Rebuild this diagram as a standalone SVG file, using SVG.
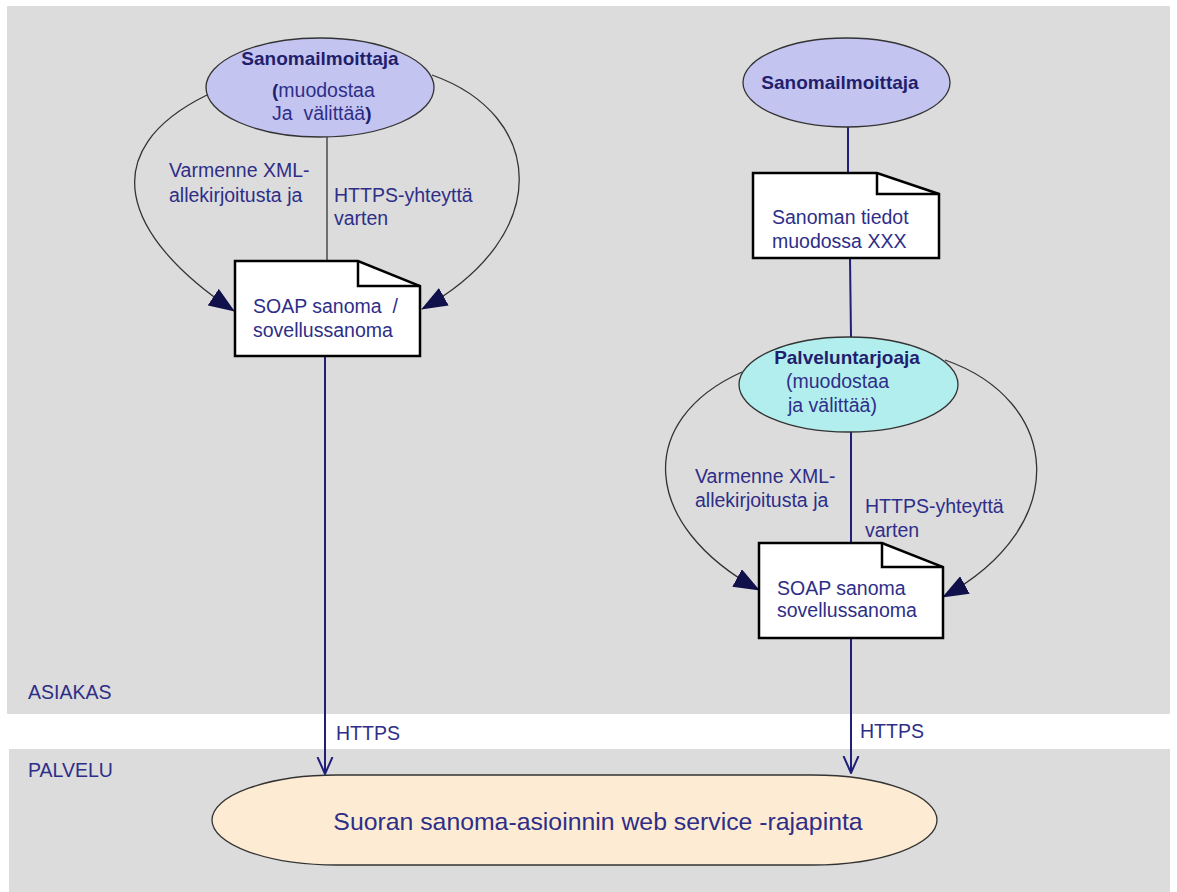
<svg xmlns="http://www.w3.org/2000/svg" width="1177" height="892" viewBox="0 0 1177 892">
<style>
.t{font-family:"Liberation Sans",Arial,sans-serif;font-size:19.5px;fill:#2e2e88}
.b{font-weight:bold;fill:#1f1f6e;font-size:19px}
.doc{fill:#fff;stroke:#000;stroke-width:2.5;stroke-linejoin:miter}
.fold{fill:none;stroke:#000;stroke-width:2.5}
.curve{fill:none;stroke:#333;stroke-width:1.3}
.thin{fill:none;stroke:#333;stroke-width:1.3}
.navy{fill:none;stroke:#1f1f7a;stroke-width:2}
</style>
<defs>
<marker id="tri" markerUnits="userSpaceOnUse" markerWidth="26" markerHeight="20" refX="25" refY="10" orient="auto" viewBox="0 0 26 20">
<path d="M0,0 L26,10 L0,20 Z" fill="#10104a"/>
</marker>
<marker id="vee" markerUnits="userSpaceOnUse" markerWidth="18" markerHeight="18" refX="17" refY="8" orient="auto" viewBox="0 0 18 16">
<path d="M0,0.5 L17,8 L0,15.5" fill="none" stroke="#1f1f7a" stroke-width="2"/>
</marker>
</defs>
<g id="background">
<rect x="7" y="6" width="1163" height="708" fill="#dcdcdc"/>
<rect x="9" y="749" width="1161" height="143" fill="#dcdcdc"/>
<text class="t" x="28" y="699">ASIAKAS</text>
<text class="t" x="28" y="777">PALVELU</text>
</g>
<g id="connectors">
<path class="thin" d="M327,137 V261"/>
<path class="curve" d="M207,95 C95,150 120,235 234,311" marker-end="url(#tri)"/>
<path class="curve" d="M432,75 C545,115 555,235 422,309" marker-end="url(#tri)"/>
<path class="navy" d="M848,127 V173"/>
<path class="navy" d="M850,258 L851,337"/>
<path class="navy" d="M851,432 V543"/>
<path class="curve" d="M742,372 C635,420 640,525 759,590" marker-end="url(#tri)"/>
<path class="curve" d="M945,360 C1060,400 1075,525 943,597" marker-end="url(#tri)"/>
<path class="navy" d="M325,356 V774" marker-end="url(#vee)"/>
<path class="navy" d="M851,638 V773" marker-end="url(#vee)"/>
<text class="t" x="169" y="177">Varmenne XML-</text>
<text class="t" x="169" y="202">allekirjoitusta ja</text>
<text class="t" x="334" y="202">HTTPS-yhteyttä</text>
<text class="t" x="334" y="225">varten</text>
<text class="t" x="695" y="483">Varmenne XML-</text>
<text class="t" x="695" y="507">allekirjoitusta ja</text>
<text class="t" x="865" y="513">HTTPS-yhteyttä</text>
<text class="t" x="865" y="537">varten</text>
<text class="t" x="336" y="740">HTTPS</text>
<text class="t" x="860" y="738">HTTPS</text>
</g>
<g id="sender1">
<ellipse cx="320" cy="87.5" rx="114" ry="49.5" fill="#c4c4f0" stroke="#333" stroke-width="1.3"/>
<text class="t b" x="320" y="65" text-anchor="middle">Sanomailmoittaja</text>
<text class="t" x="272" y="97"><tspan class="b">(</tspan>muodostaa</text>
<text class="t" x="272" y="120" xml:space="preserve">Ja  välittää<tspan class="b">)</tspan></text>
</g>
<g id="doc1">
<path class="doc" d="M235,261 H358 L420,286 V356 H235 Z"/>
<path class="fold" d="M358,261 V286 H420"/>
<text class="t" x="253" y="313" xml:space="preserve">SOAP sanoma  /</text>
<text class="t" x="253" y="337">sovellussanoma</text>
</g>
<g id="sender2">
<ellipse cx="846.5" cy="82.5" rx="103.5" ry="44.5" fill="#c4c4f0" stroke="#333" stroke-width="1.3"/>
<text class="t b" x="840" y="89" text-anchor="middle">Sanomailmoittaja</text>
</g>
<g id="doc2">
<path class="doc" d="M753,173 H877 L939,194 V258 H753 Z"/>
<path class="fold" d="M877,173 V194 H939"/>
<text class="t" x="772" y="224">Sanoman tiedot</text>
<text class="t" x="772" y="248">muodossa XXX</text>
</g>
<g id="provider">
<ellipse cx="848.5" cy="384.5" rx="109.5" ry="47.5" fill="#b3eeee" stroke="#333" stroke-width="1.3"/>
<text class="t b" x="847" y="364" text-anchor="middle">Palveluntarjoaja</text>
<text class="t" x="786" y="388">(muodostaa</text>
<text class="t" x="788" y="412">ja välittää)</text>
</g>
<g id="doc3">
<path class="doc" d="M759,543 H882 L943,567 V638 H759 Z"/>
<path class="fold" d="M882,543 V567 H943"/>
<text class="t" x="777" y="595">SOAP sanoma</text>
<text class="t" x="777" y="617">sovellussanoma</text>
</g>
<g id="service">
<rect x="212" y="775" width="725" height="90" rx="125" ry="45" fill="#fdebd3" stroke="#333" stroke-width="1.3"/>
<text class="t" x="598" y="830" text-anchor="middle" style="font-size:24.8px">Suoran sanoma-asioinnin web service -rajapinta</text>
</g>
</svg>
